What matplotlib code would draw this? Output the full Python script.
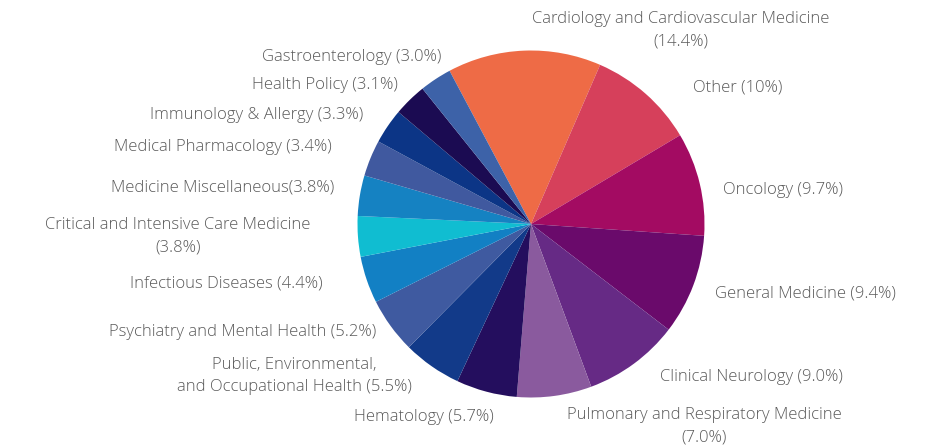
import matplotlib
matplotlib.use("Agg")
import matplotlib.pyplot as plt

# ---- data ----
categories = [
    "Cardiology and Cardiovascular Medicine", "Other", "Oncology",
    "General Medicine", "Clinical Neurology",
    "Pulmonary and Respiratory Medicine", "Hematology",
    "Public, Environmental, and Occupational Health",
    "Psychiatry and Mental Health", "Infectious Diseases",
    "Critical and Intensive Care Medicine", "Medicine Miscellaneous",
    "Medical Pharmacology", "Immunology & Allergy", "Health Policy",
    "Gastroenterology",
]
shares = [14.4, 10, 9.7, 9.4, 9.0, 7.0, 5.7, 5.5, 5.2, 4.4, 3.8, 3.8,
          3.4, 3.3, 3.1, 3.0]
label_texts = [
    "Cardiology and Cardiovascular Medicine\n(14.4%)",
    "Other (10%)",
    "Oncology (9.7%)",
    "General Medicine (9.4%)",
    "Clinical Neurology (9.0%)",
    "Pulmonary and Respiratory Medicine\n(7.0%)",
    "Hematology (5.7%)",
    "Public, Environmental,\nand Occupational Health (5.5%)",
    "Psychiatry and Mental Health (5.2%)",
    "Infectious Diseases (4.4%)",
    "Critical and Intensive Care Medicine\n(3.8%)",
    "Medicine Miscellaneous(3.8%)",
    "Medical Pharmacology (3.4%)",
    "Immunology & Allergy (3.3%)",
    "Health Policy (3.1%)",
    "Gastroenterology (3.0%)",
]

# ---- styles / layout ----
colors = [
    "#EE6B46", "#D6405B", "#A30B62", "#6A0A6B", "#662A85", "#8A5A9E",
    "#240E5E", "#123A89", "#3F5AA0", "#1280C4", "#10BDD1", "#1582C2",
    "#40599F", "#0C3586", "#1B0B52", "#3D62A8",
]
# label anchor positions in figure pixels (x, y from top, ha)
label_pos = [
    (681, 30, "center"), (693, 88, "left"), (723, 190, "left"),
    (715, 293, "left"), (660, 377, "left"), (704, 426, "center"),
    (354, 417, "left"), (294, 376, "center"), (376, 332, "right"),
    (323, 283, "right"), (178, 236, "center"), (334, 188, "right"),
    (332, 147, "right"), (363, 115, "right"), (398, 85, "right"),
    (441, 57, "right"),
]

W, H = 948, 445
fig = plt.figure(figsize=(W / 100, H / 100), dpi=100)
ax = fig.add_axes([0, 0, 1, 1])

ax.pie(shares, colors=colors, startangle=118, counterclock=False,
       center=(531, H - 224), radius=173.5,
       wedgeprops=dict(linewidth=0))
ax.set_aspect("auto")
ax.set_xlim(0, W)
ax.set_ylim(0, H)
ax.axis("off")

for txt, (x, y, ha) in zip(label_texts, label_pos):
    ax.text(x, H - y, txt, ha=ha, va="center", multialignment="center",
            fontsize=12, family=["Open Sans", "DejaVu Sans"],
            fontweight="light", color="#5a5a5a", linespacing=1.5)

fig.savefig("out.png", dpi=100, facecolor="white")
